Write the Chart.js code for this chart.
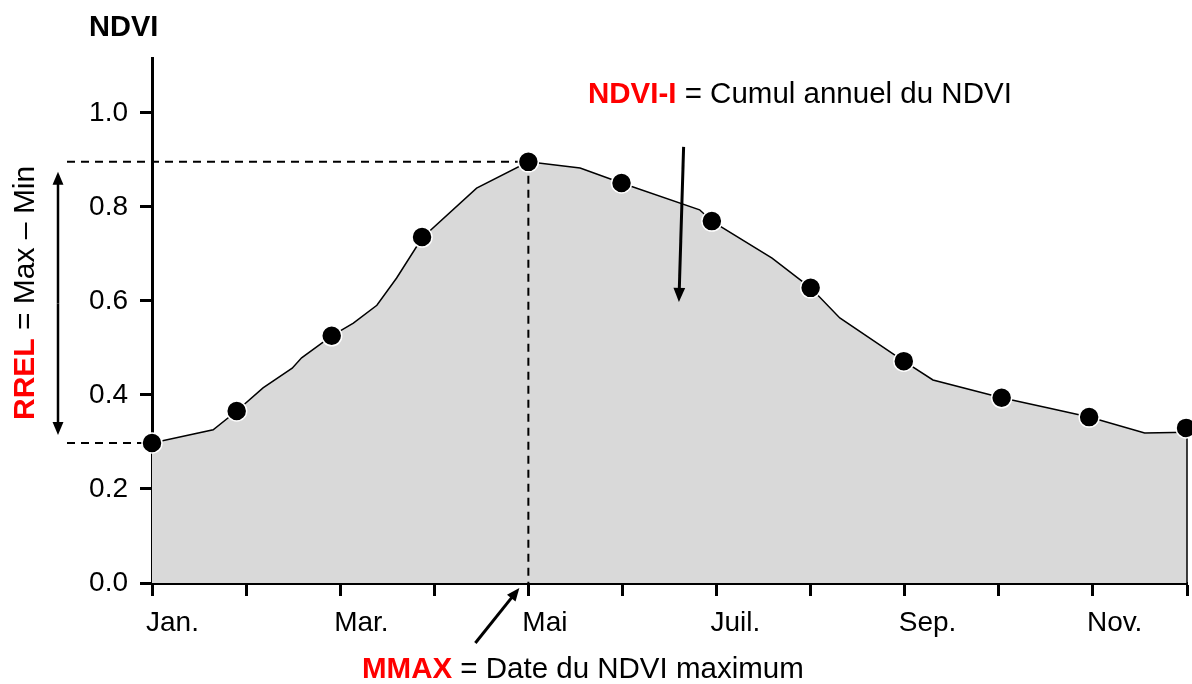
<!DOCTYPE html>
<html>
<head>
<meta charset="utf-8">
<script src="https://cdn.jsdelivr.net/npm/chart.js@4"></script>
<style>
html, body { margin: 0; padding: 0; background: #fff; }
#wrap { width: 1192px; height: 684px; }
</style>
</head>
<body>
<div id="wrap"><canvas id="c" width="1192" height="684"></canvas></div>
<script>
// Axe des mois (x = mois depuis janvier)
const monthLabels = ['Jan.', '', 'Mar.', '', 'Mai', '', 'Juil.', '', 'Sep.', '', 'Nov.', ''];
const yTicks = [0, 0.2, 0.4, 0.6, 0.8, 1.0];

// Courbe du NDVI (ligne + surface grise)
const curveX = [0, 0.65, 0.90, 1.18, 1.49, 1.59, 1.91, 2.14, 2.39, 2.60, 2.87, 3.45, 4.00,
                4.55, 4.99, 5.82, 5.95, 6.59, 7.00, 7.31, 7.99, 8.30, 9.03, 9.54, 9.96, 10.55, 11.0];
const curveY = [0.298, 0.326, 0.366, 0.415, 0.457, 0.479, 0.526, 0.553, 0.591, 0.649, 0.734, 0.840, 0.896,
                0.883, 0.851, 0.794, 0.770, 0.691, 0.628, 0.564, 0.472, 0.432, 0.394, 0.372, 0.353, 0.319, 0.321];

// Points mensuels
const dotX = [0, 0.90, 1.91, 2.87, 4.00, 4.99, 5.95, 7.00, 7.99, 9.03, 9.96, 10.99];
const dotY = [0.298, 0.366, 0.526, 0.736, 0.896, 0.851, 0.770, 0.628, 0.472, 0.394, 0.353, 0.330];

const FONT = "'Liberation Sans', Arial, Helvetica, sans-serif";
Chart.defaults.font.family = FONT;
Chart.defaults.color = '#000';

function arrow(ctx, x1, y1, x2, y2, head) {
    const a = Math.atan2(y2 - y1, x2 - x1);
    ctx.beginPath();
    ctx.moveTo(x1, y1);
    ctx.lineTo(x2 - Math.cos(a) * head * 0.8, y2 - Math.sin(a) * head * 0.8);
    ctx.stroke();
    ctx.beginPath();
    ctx.moveTo(x2, y2);
    ctx.lineTo(x2 - head * Math.cos(a) + head * 0.42 * Math.sin(a), y2 - head * Math.sin(a) - head * 0.42 * Math.cos(a));
    ctx.lineTo(x2 - head * Math.cos(a) - head * 0.42 * Math.sin(a), y2 - head * Math.sin(a) + head * 0.42 * Math.cos(a));
    ctx.closePath();
    ctx.fill();
}

function mixedText(ctx, x, y, red, rest, size) {
    ctx.font = 'bold ' + size + 'px ' + FONT;
    ctx.fillStyle = '#ff0000';
    ctx.fillText(red, x, y);
    const w = ctx.measureText(red).width;
    ctx.font = size + 'px ' + FONT;
    ctx.fillStyle = '#000';
    ctx.fillText(rest, x + w, y);
}

const annotations = {
    id: 'annotations',
    afterDatasetDraw(chart, args) {
        if (args.index !== 0) return;
        const ctx = chart.ctx;
        const xs = chart.scales.x, ys = chart.scales.y;
        const maxY = Math.max(...dotY), minY = Math.min(...dotY);
        const maxX = dotX[dotY.indexOf(maxY)], minX = dotX[dotY.indexOf(minY)];
        const y0 = ys.getPixelForValue(0);
        ctx.save();
        // bord droit de la surface
        ctx.strokeStyle = '#000';
        ctx.lineWidth = 1.5;
        ctx.beginPath();
        ctx.moveTo(xs.getPixelForValue(curveX[curveX.length - 1]), ys.getPixelForValue(curveY[curveY.length - 1]));
        ctx.lineTo(xs.getPixelForValue(curveX[curveX.length - 1]), y0);
        ctx.stroke();
        // pointillés max / min
        ctx.setLineDash([8, 6]);
        ctx.lineWidth = 2;
        ctx.beginPath();
        ctx.moveTo(67, ys.getPixelForValue(maxY));
        ctx.lineTo(xs.getPixelForValue(maxX), ys.getPixelForValue(maxY));
        ctx.moveTo(67, ys.getPixelForValue(minY));
        ctx.lineTo(xs.getPixelForValue(minX), ys.getPixelForValue(minY));
        ctx.moveTo(xs.getPixelForValue(maxX), ys.getPixelForValue(maxY));
        ctx.lineTo(xs.getPixelForValue(maxX), y0);
        ctx.stroke();
        ctx.restore();
    },
    afterDraw(chart) {
        const ctx = chart.ctx;
        const xs = chart.scales.x, ys = chart.scales.y;
        const maxY = Math.max(...dotY), minY = Math.min(...dotY);
        const maxX = dotX[dotY.indexOf(maxY)];
        ctx.save();
        ctx.fillStyle = '#000';
        ctx.strokeStyle = '#000';
        ctx.textBaseline = 'alphabetic';
        ctx.textAlign = 'left';

        // titre de l'axe
        ctx.font = 'bold 29px ' + FONT;
        ctx.fillText('NDVI', 89, 36);

        // RREL : double flèche
        ctx.lineWidth = 2.5;
        const yTop = ys.getPixelForValue(maxY) + 10, yBot = ys.getPixelForValue(minY) - 8;
        arrow(ctx, 58, (yTop + yBot) / 2, 58, yTop, 13);
        arrow(ctx, 58, (yTop + yBot) / 2, 58, yBot, 13);

        // flèche NDVI-I
        ctx.lineWidth = 3;
        arrow(ctx, xs.getPixelForValue(5.65), ys.getPixelForValue(0.928),
                   xs.getPixelForValue(5.60), ys.getPixelForValue(0.598), 14);

        // flèche MMAX
        const tipX = xs.getPixelForValue(maxX) - 9, tipY = ys.getPixelForValue(0) + 5;
        arrow(ctx, tipX - 44, tipY + 55, tipX, tipY, 13);

        // textes
        mixedText(ctx, 588, 103, 'NDVI-I', ' = Cumul annuel du NDVI', 29.5);
        mixedText(ctx, 362, 678, 'MMAX', ' = Date du NDVI maximum', 29.5);

        ctx.translate(34, 420);
        ctx.rotate(-Math.PI / 2);
        mixedText(ctx, 0, 0, 'RREL', ' = Max \u2013 Min', 30);
        ctx.restore();
    }
};

new Chart(document.getElementById('c'), {
    data: {
        datasets: [{
            type: 'line',
            data: curveX.map((x, i) => ({ x: x, y: curveY[i] })),
            borderColor: '#000',
            borderWidth: 1.5,
            backgroundColor: '#d9d9d9',
            fill: 'origin',
            pointRadius: 0,
            tension: 0,
            order: 1
        }, {
            type: 'scatter',
            data: dotX.map((x, i) => ({ x: x, y: dotY[i] })),
            pointRadius: 10,
            pointBackgroundColor: '#000',
            pointBorderColor: '#fff',
            pointBorderWidth: 1.5,
            showLine: false,
            clip: false,
            order: 0
        }]
    },
    options: {
        responsive: false,
        animation: false,
        layout: { autoPadding: false, padding: { left: 0, right: 5, top: 58, bottom: 0 } },
        plugins: { legend: { display: false }, tooltip: { enabled: false } },
        scales: {
            x: {
                type: 'linear',
                min: 0,
                max: 11,
                afterBuildTicks: (scale) => { scale.ticks = monthLabels.map((_, i) => ({ value: i })); },
                afterFit: (scale) => {
                    scale.height = 101;
                    scale.paddingLeft = 0;
                    scale.paddingRight = 0;
                },
                ticks: {
                    autoSkip: false,
                    maxRotation: 0,
                    align: 'start',
                    labelOffset: -6,
                    padding: 10,
                    font: { size: 28 },
                    color: '#000',
                    callback: (v, i) => monthLabels[i]
                },
                grid: { drawOnChartArea: false, drawTicks: true, tickLength: 13, tickWidth: 3, tickColor: '#000' },
                border: { display: true, width: 3, color: '#000' }
            },
            y: {
                min: 0,
                max: 1.117,
                afterBuildTicks: (scale) => { scale.ticks = yTicks.map(v => ({ value: v })); },
                afterFit: (scale) => { scale.width = 152; },
                ticks: {
                    padding: 12,
                    font: { size: 28 },
                    color: '#000',
                    callback: (v) => v.toFixed(1)
                },
                grid: { drawOnChartArea: false, drawTicks: true, tickLength: 12, tickWidth: 3, tickColor: '#000' },
                border: { display: true, width: 3, color: '#000' }
            }
        }
    },
    plugins: [annotations]
});
</script>
</body>
</html>
